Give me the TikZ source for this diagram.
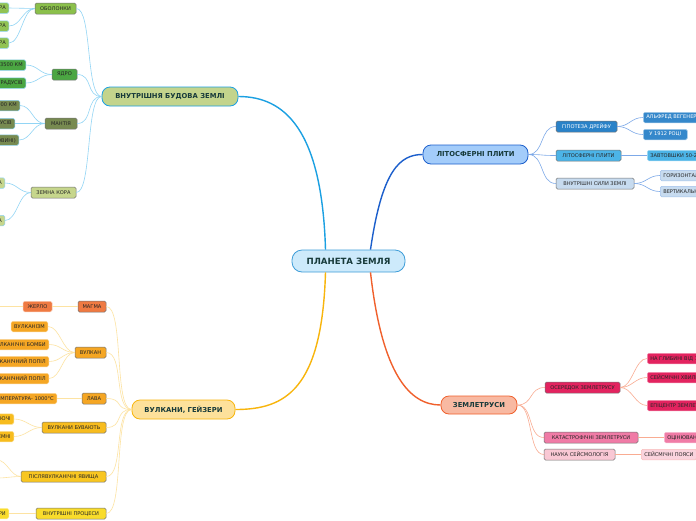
\documentclass[tikz,border=0pt]{standalone}
\usepackage{fontspec}
\setmainfont{DejaVu Sans}
\usetikzlibrary{calc}
\definecolor{txtdark}{HTML}{173A3A}
\definecolor{cfill}{HTML}{CDEAFB}
\definecolor{cdraw}{HTML}{3E9DD8}
\definecolor{bFill}{HTML}{C3D48C}
\definecolor{bLine}{HTML}{1BA0E2}
\definecolor{bThin}{HTML}{92D5F5}
\definecolor{lFill}{HTML}{A3CCFA}
\definecolor{lLine}{HTML}{1C5FCC}
\definecolor{lThin}{HTML}{7DA9E8}
\definecolor{vFill}{HTML}{FDE19B}
\definecolor{vLine}{HTML}{F8B50C}
\definecolor{vThin}{HTML}{FDE3A2}
\definecolor{zFill}{HTML}{F8B9A2}
\definecolor{zLine}{HTML}{F0602C}
\definecolor{zThin}{HTML}{F9AC92}
\definecolor{gObol}{HTML}{8BC04B}
\definecolor{gYadro}{HTML}{4BA642}
\definecolor{gMant}{HTML}{778A50}
\definecolor{gKora}{HTML}{C6D68C}
\definecolor{bGip}{HTML}{2A82C8}
\definecolor{bLit}{HTML}{4CB4E7}
\definecolor{bSyl}{HTML}{C7DBEF}
\definecolor{rOser}{HTML}{E3235F}
\definecolor{rKat}{HTML}{F07BA6}
\definecolor{rNauka}{HTML}{F9C8D4}
\definecolor{oMagma}{HTML}{EF7A42}
\definecolor{oVulk}{HTML}{F5A623}
\definecolor{oBuv}{HTML}{F7BC1E}
\definecolor{oPisl}{HTML}{F8C621}
\definecolor{oVnut}{HTML}{F9DC2B}
\newcommand\conn[4]{\draw[#1] (#2.west) .. controls +(-#4,0) and +(#4,0) .. (#3.east);}
\newcommand\connc[4]{\draw[#1] (#2.west) .. controls +(-#4,0) and +(#4,0) .. (#3);}
\begin{document}
\begin{tikzpicture}[x=1pt,y=-1pt,
  box/.style={rounded corners=1.5pt, inner sep=0pt, inner xsep=3pt, minimum height=11pt,
    font=\fontsize{5.1}{6}\selectfont, line width=0.5pt, text=black!85},
  sub/.style={box, draw=black!55},
  leaf/.style={box, minimum height=10.5pt},
  mainn/.style={rounded corners=8pt, minimum height=19pt, inner sep=0pt, line width=0.8pt,
    font=\fontsize{6.8}{8}\selectfont\bfseries, text=txtdark},
  thick1/.style={line width=1.4pt},
  thin1/.style={line width=0.6pt}
]
\useasboundingbox[fill=white] (0,0) rectangle (696,520);

% central
\node[mainn, rounded corners=10pt, minimum width=113pt, minimum height=22pt, fill=cfill, draw=cdraw,
  font=\fontsize{8.6}{10}\selectfont\bfseries] (c) at (348.5,261) {ПЛАНЕТА ЗЕМЛЯ};

% main branches
\node[mainn, minimum width=136pt, fill=bFill, draw=bLine] (b) at (170,96.5) {ВНУТРІШНЯ БУДОВА ЗЕМЛІ};
\node[mainn, minimum width=105pt, fill=lFill, draw=lLine] (l) at (475.5,154.5) {ЛІТОСФЕРНІ ПЛИТИ};
\node[mainn, minimum width=103pt, fill=vFill, draw=vLine] (v) at (183.5,409.5) {ВУЛКАНИ, ГЕЙЗЕРИ};
\node[mainn, minimum width=76pt, minimum height=18pt, fill=zFill, draw=zLine] (z) at (479,405) {ЗЕМЛЕТРУСИ};

\draw[thick1, bLine] ($(c.north)+(-23,0)$) .. controls (322,130) and (285,96.5) .. (b.east);
\draw[thick1, lLine] ($(c.north)+(22,0)$) .. controls (382,170) and (400,154.5) .. (l.west);
\draw[thick1, vLine] ($(c.south)+(-23,0)$) .. controls (322,390) and (285,409.5) .. (v.east);
\draw[thick1, zLine] ($(c.south)+(22,0)$) .. controls (382,375) and (410,405) .. (z.west);

% ---- Internal structure
\node[sub, minimum width=41pt, fill=gObol] (b1) at (55.5,8.5) {ОБОЛОНКИ};
\node[sub, minimum width=25pt, fill=gYadro] (b2) at (64.5,74.5) {ЯДРО};
\node[sub, minimum width=32pt, fill=gMant] (b3) at (61,123.5) {МАНТІЯ};
\node[sub, minimum width=45pt, fill=gKora] (b4) at (53.5,192.5) {ЗЕМНА КОРА};
\foreach \n in {b1,b2,b3,b4} {\conn{thin1,bThin}{b}{\n}{16}}

\node[leaf, anchor=east, fill=gObol!95!white, draw=bThin] (b11) at (9,8) {АТМОСФЕРА};
\node[leaf, anchor=east, fill=gObol!95!white, draw=bThin] (b12) at (9,26) {ГІДРОСФЕРА};
\node[leaf, anchor=east, fill=gObol!95!white, draw=bThin] (b13) at (9,43) {БІОСФЕРА};
\node[leaf, anchor=east, fill=gYadro, draw=bThin] (b21) at (26,65) {РАДІУС 3500 КМ};
\node[leaf, anchor=east, fill=gYadro, draw=bThin] (b22) at (26,83) {ТЕМПЕРАТУРА 5000 ГРАДУСІВ};
\node[leaf, anchor=east, fill=gMant, draw=bThin] (b31) at (20,105.5) {ТОВЩИНА 2900 КМ};
\node[leaf, anchor=east, fill=gMant, draw=bThin] (b32) at (15,123.5) {ТЕМПЕРАТУРА 2000 ГРАДУСІВ};
\node[leaf, anchor=east, fill=gMant, draw=bThin] (b33) at (19,140) {(У ВЕРХНІЙ ПОЛОВИНІ)};
\node[leaf, anchor=east, fill=gKora, draw=bThin] (b41) at (5,183) {ОКЕАНІЧНА};
\node[leaf, anchor=east, fill=gKora, draw=bThin] (b42) at (5,220.5) {МАТЕРИКОВА};
\foreach \p/\n in {b1/b11,b1/b12,b1/b13,b2/b21,b2/b22,b3/b31,b3/b32,b3/b33,b4/b41,b4/b42}
  {\conn{thin1,bThin}{\p}{\n}{12}}

% ---- Lithosphere plates
\node[sub, minimum width=61pt, fill=bGip, text=white] (l1) at (586.5,126.5) {ГІПОТЕЗА ДРЕЙФУ};
\node[sub, minimum width=65pt, fill=bLit] (l2) at (588.5,155.5) {ЛІТОСФЕРНІ ПЛИТИ};
\node[sub, minimum width=78pt, fill=bSyl] (l3) at (595,183.5) {ВНУТРІШНІ СИЛИ ЗЕМЛІ};
\foreach \n in {l1,l2,l3} {\draw[thin1,lThin] (l.east) .. controls +(16,0) and +(-16,0) .. (\n.west);}
\node[leaf, anchor=west, fill=bGip!95!white, draw=bGip!40!white, text=white] (l11) at (643,117.5) {АЛЬФРЕД ВЕГЕНЕР};
\node[leaf, anchor=west, minimum width=44pt, fill=bGip!95!white, draw=bGip!40!white, text=white] (l12) at (643,134.5) {У 1912 РОЦІ};
\node[leaf, anchor=west, fill=bLit, draw=bLit!50!white] (l21) at (647,155.5) {ЗАВТОВШКИ 50-200 КМ};
\node[leaf, anchor=west, fill=bSyl, draw=bSyl!50!lThin] (l31) at (660,175.5) {ГОРИЗОНТАЛЬНІ РУХИ};
\node[leaf, anchor=west, fill=bSyl, draw=bSyl!50!lThin] (l32) at (660,191.5) {ВЕРТИКАЛЬНІ РУХИ};
\foreach \p/\n in {l1/l11,l1/l12,l2/l21,l3/l31,l3/l32}
  {\draw[thin1,lThin] (\p.east) .. controls +(12,0) and +(-12,0) .. (\n.west);}

% ---- Earthquakes
\node[sub, minimum width=75pt, fill=rOser] (z1) at (582.5,387.5) {ОСЕРЕДОК ЗЕМЛЕТРУСУ};
\node[sub, minimum width=94pt, fill=rKat] (z2) at (591,437.5) {КАТАСТРОФІЧНІ ЗЕМЛЕТРУСИ};
\node[sub, minimum width=71pt, fill=rNauka] (z3) at (579.5,454.5) {НАУКА СЕЙСМОЛОГІЯ};
\foreach \n in {z1,z2,z3} {\draw[thin1,zThin] (z.east) .. controls +(16,0) and +(-16,0) .. (\n.west);}
\node[leaf, anchor=west, fill=rOser, draw=rOser!50!white] (z11) at (647,358.5) {НА ГЛИБИНІ ВІД 10 ДО 700 КМ};
\node[leaf, anchor=west, fill=rOser, draw=rOser!50!white] (z12) at (647,377.5) {СЕЙСМІЧНІ ХВИЛІ};
\node[leaf, anchor=west, fill=rOser, draw=rOser!50!white] (z13) at (647,405.5) {ЕПІЦЕНТР ЗЕМЛЕТРУСУ};
\node[leaf, anchor=west, fill=rKat, draw=rKat!50!white] (z21) at (664,437.5) {ОЦІНЮВАННЯ СИЛИ};
\node[leaf, anchor=west, fill=rNauka!80!white, draw=rNauka!60!zThin] (z31) at (641,454.5) {СЕЙСМІЧНІ ПОЯСИ};
\foreach \p/\n in {z1/z11,z1/z12,z1/z13,z2/z21,z3/z31}
  {\draw[thin1,zThin] (\p.east) .. controls +(12,0) and +(-12,0) .. (\n.west);}

% ---- Volcanoes
\node[sub, minimum width=28pt, fill=oMagma] (v1) at (92,306.5) {МАГМА};
\node[sub, minimum width=31pt, fill=oVulk] (v2) at (90.5,352.5) {ВУЛКАН};
\node[sub, minimum width=24pt, fill=oVulk] (v3) at (94,398.5) {ЛАВА};
\node[sub, minimum width=64pt, fill=oBuv] (v4) at (74,427.5) {ВУЛКАНИ БУВАЮТЬ};
\node[sub, minimum width=85pt, fill=oPisl] (v5) at (63.5,476.5) {ПІСЛЯВУЛКАНІЧНІ ЯВИЩА};
\node[sub, minimum width=70pt, fill=oVnut] (v6) at (71,513.5) {ВНУТРІШНІ ПРОЦЕСИ};
\foreach \n in {v1,v2,v3,v4,v5,v6} {\conn{thin1,vThin}{v}{\n}{18}}

\node[leaf, minimum width=29pt, fill=oMagma, draw=oMagma!45!white] (v11) at (37.5,306.5) {ЖЕРЛО};
\coordinate (v11x) at (-3,306.5);
\node[leaf, anchor=east, fill=oVulk, draw=oVulk!45!white] (v21) at (48,326.5) {ВУЛКАНІЗМ};
\node[leaf, anchor=east, fill=oVulk, draw=oVulk!45!white] (v22) at (49,344.5) {ВУЛКАНІЧНІ БОМБИ};
\node[leaf, anchor=east, fill=oVulk, draw=oVulk!45!white] (v23) at (49,361.5) {ВУЛКАНІЧНИЙ ПОПІЛ};
\node[leaf, anchor=east, fill=oVulk, draw=oVulk!45!white] (v24) at (49,378.5) {ВУЛКАНІЧНИЙ ПОПІЛ};
\node[leaf, anchor=east, fill=oVulk, draw=oVulk!45!white] (v31) at (57,398.5) {ТЕМПЕРАТУРА- 1000°С};
\node[leaf, anchor=east, fill=oBuv, draw=oBuv!45!white] (v41) at (14,419) {ДІЮЧІ};
\node[leaf, anchor=east, fill=oBuv, draw=oBuv!45!white] (v42) at (14,436.5) {НАЗЕМНІ};
\coordinate (v51) at (-3,460);
\coordinate (v52) at (-3,478);
\node[leaf, anchor=east, fill=oVnut, draw=oVnut!45!white] (v61) at (9,513.5) {ГЕЙЗЕРИ};
\foreach \p/\n in {v1/v11,v2/v21,v2/v22,v2/v23,v2/v24,v3/v31,v4/v41,v4/v42,v6/v61}
  {\conn{thin1,vThin}{\p}{\n}{12}}
\connc{thin1,vThin}{v11}{v11x}{8}
\connc{thin1,vThin}{v5}{v51}{10}
\connc{thin1,vThin}{v5}{v52}{10}
\end{tikzpicture}
\end{document}
